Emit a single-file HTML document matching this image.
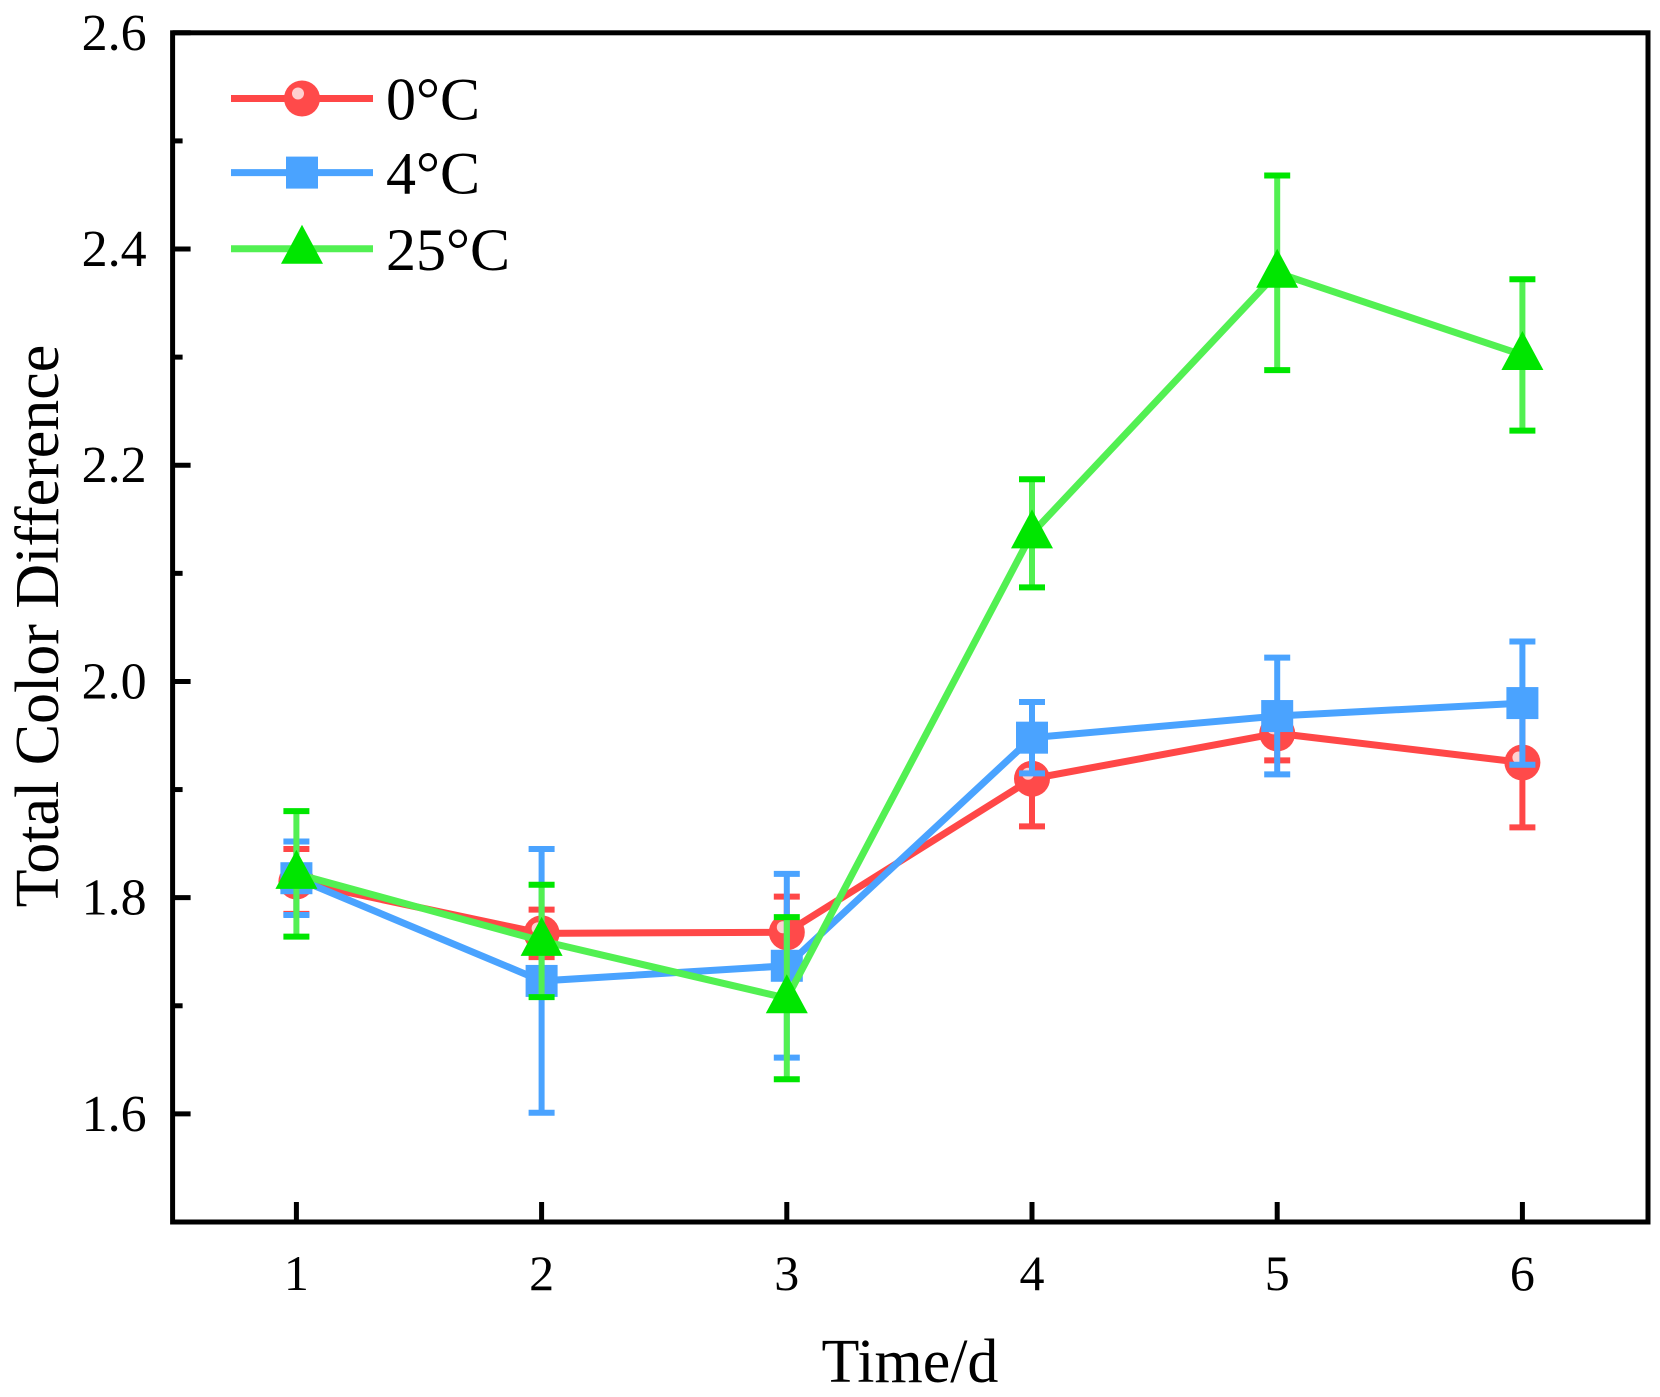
<!DOCTYPE html>
<html><head><meta charset="utf-8"><style>
html,body{margin:0;padding:0;background:#fff;}
svg{display:block;font-family:"Liberation Serif",serif;}
</style></head><body>
<svg id="chart" width="1660" height="1397" viewBox="0 0 1660 1397"></svg>
<script>
const days = [1,2,3,4,5,6];
const yTicks = [1.6,1.8,2.0,2.2,2.4,2.6];
const yTickLabels = ["1.6","1.8","2.0","2.2","2.4","2.6"];
const s0 = [1.815,1.767,1.768,1.910,1.952,1.925];
const s0Err = [0.030,0.022,0.033,0.044,0.025,0.060];
const s4 = [1.818,1.723,1.737,1.948,1.968,1.980];
const s4Err = [0.034,0.122,0.085,0.033,0.054,0.057];
const s25 = [1.822,1.760,1.707,2.137,2.378,2.302];
const s25Err = [0.058,0.052,0.075,0.050,0.090,0.070];
const seriesNames = ["0°C","4°C","25°C"];

const L=172.6,R=1648,T=32.8,B=1222;
const X = d => 296.4 + (d-1)*245.2;
const Y = v => T + (2.6-v)*(B-T)/1.1;
const svg=document.getElementById('chart');
const NS='http://www.w3.org/2000/svg';
function mk(tag,attrs,parent){const e=document.createElementNS(NS,tag);for(const k in attrs)e.setAttribute(k,attrs[k]);(parent||svg).appendChild(e);return e;}

const ax=mk('g',{});


for(let v=1.5;v<=2.601;v+=0.1){const y=Y(v);const major=Math.abs((v*10)%2)<0.01||Math.abs((v*10)%2-2)<0.01;mk('line',{x1:L,x2:L+(major?18:10),y1:y,y2:y,stroke:'#000','stroke-width':5},ax);}
yTicks.forEach((v,i)=>{const t=mk('text',{x:L-26,y:Y(v)+17,'text-anchor':'end','font-size':52},ax);t.textContent=yTickLabels[i];

});
const xa=mk('g',{});


days.forEach(d=>{mk('line',{x1:X(d),x2:X(d),y1:B,y2:B-20,stroke:'#000','stroke-width':5},xa);const t=mk('text',{x:X(d),y:B+68,'text-anchor':'middle','font-size':50},xa);t.textContent=String(d);

});

const cols=['#ff4747','#4aa3ff','#52f052'];
const mcols=['#ff4747','#4aa3ff','#00e600'];
const all=[[s0,s0Err],[s4,s4Err],[s25,s25Err]];
function marker(i,x,y,g){
 if(i===0){mk('circle',{cx:x,cy:y,r:18,fill:'#ff4a4a'},g);mk('circle',{cx:x-4,cy:y-5,r:6,fill:'#ffd0d0'},g);}
 else if(i===1){mk('rect',{x:x-16,y:y-16,width:32,height:32,fill:'#4aa3ff'},g);}
 else {mk('polygon',{points:`${x},${y-24} ${x-21},${y+15} ${x+21},${y+15}`,fill:'#00e600'},g);}
}
all.forEach(([vals,errs],i)=>{
 const g=mk('g',{});
 
 
 vals.forEach((v,j)=>{const x=X(days[j]);const y1=Y(v+errs[j]),y2=Y(v-errs[j]);
  mk('line',{x1:x,x2:x,y1:y1,y2:y2,stroke:cols[i],'stroke-width':6},g);
  mk('line',{x1:x-13,x2:x+13,y1:y1,y2:y1,stroke:mcols[i],'stroke-width':6},g);
  mk('line',{x1:x-13,x2:x+13,y1:y2,y2:y2,stroke:mcols[i],'stroke-width':6},g);});
 mk('polyline',{points:vals.map((v,j)=>X(days[j])+','+Y(v)).join(' '),fill:'none',stroke:cols[i],'stroke-width':7},g);
 vals.forEach((v,j)=>marker(i,X(days[j]),Y(v),g));
});

mk('rect',{x:L,y:T,width:R-L,height:B-T,fill:'none',stroke:'#000','stroke-width':5});

const lg=mk('g',{});


[98.5,172.6,248.8].forEach((y,i)=>{
 const e=mk('g',{},lg);
 
 
 mk('line',{x1:231,x2:373,y1:y,y2:y,stroke:cols[i],'stroke-width':7},e);
 marker(i,302,y,e);
 const t=mk('text',{x:386,y:y+21,'font-size':60},e);t.textContent=seriesNames[i];
});

const xt=mk('text',{x:910,y:1382,'text-anchor':'middle','font-size':62});xt.textContent='Time/d';


const yt=mk('text',{x:0,y:0,'text-anchor':'middle','font-size':62,transform:'translate(58,626) rotate(-90)'});yt.textContent='Total Color Difference';


</script>
</body></html>
